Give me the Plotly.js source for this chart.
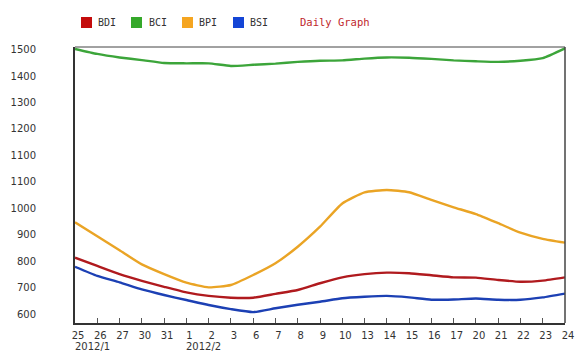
<!DOCTYPE html>
<html>
<head>
<meta charset="utf-8">
<script src="https://cdn.plot.ly/plotly-3.0.1.min.js"></script>
<style>html,body{margin:0;padding:0;background:#fff;}#chart{width:580px;height:352px;}</style>
</head>
<body>
<div id="chart"></div>
<script>
// Trading days (Jan 25 2012 - Feb 24 2012)
const days = ['25','26','27','30','31','1','2','3','6','7','8','9','10','13','14','15','16','17','20','21','22','23','24'];
const bdi = [793,765,737,714,694,675,663,657,657,670,683,706,726,737,742,740,733,726,725,717,711,715,726];
const bci = [1502,1485,1473,1464,1454,1453,1453,1444,1448,1452,1458,1462,1463,1469,1473,1472,1468,1463,1460,1458,1462,1471,1504];
const bpi = [913,866,818,770,737,708,692,700,734,774,830,898,977,1015,1023,1015,989,964,941,910,878,857,844];
const bsi = [762,731,709,685,666,649,632,618,608,621,633,643,655,660,663,658,650,651,654,650,650,658,671];
const yTickVals = [1500,1410,1320,1230,1140,1050,960,870,780,690,600];
const yTickText = ['1500','1400','1300','1200','1100','1100','1000','900','800','700','600'];
const monthLabels = ['2012/1','2012/2'];
const monthStartDays = ['25','1'];
const seriesNames = ['BDI','BCI','BPI','BSI'];
const seriesColors = ['#b01a1e','#3ca53a','#eaa425','#1c40b4'];
const legendColors = ['#c40c0c','#35a82a','#f5a520','#1445d6'];

const seriesData = [bdi, bci, bpi, bsi];
const drawOrder = [1, 2, 0, 3];
const traces = drawOrder.map(i => ({
  type: 'scatter', mode: 'lines', x: days, y: seriesData[i], name: seriesNames[i],
  line: {color: seriesColors[i], width: 2.4, shape: 'spline', smoothing: 0.5},
  showlegend: false, hoverinfo: 'skip'
}));

const shapes = [
  // top and right frame
  {type:'line', xref:'paper', yref:'paper', x0:0, x1:1, y0:1, y1:1, line:{color:'#444', width:1}},
  {type:'line', xref:'paper', yref:'paper', x0:1, x1:1, y0:0, y1:1, line:{color:'#444', width:1.5}}
];
const annotations = [];
const legendSquareX = [6, 56, 107, 158];
const legendTextX = [21, 72, 122, 173];
seriesNames.forEach((n, i) => {
  shapes.push({type:'rect', xref:'paper', yref:'paper', xsizemode:'pixel', ysizemode:'pixel',
    xanchor:0, yanchor:1, x0:legendSquareX[i], x1:legendSquareX[i]+11, y0:19, y1:30,
    fillcolor: legendColors[i], line:{width:0}});
  annotations.push({xref:'paper', yref:'paper', x:0, y:1, xshift:legendTextX[i], yshift:25,
    xanchor:'left', yanchor:'middle', showarrow:false, text:n,
    font:{family:'DejaVu Sans Mono', size:10, color:'#333'}});
});
annotations.push({xref:'paper', yref:'paper', x:0, y:1, xshift:223, yshift:25,
  xanchor:'left', yanchor:'middle', showarrow:false, text:'Daily Graph',
  font:{family:'DejaVu Sans Mono', size:10.5, color:'#c0282d'}});
monthLabels.forEach((m, i) => {
  annotations.push({xref:'x', yref:'paper', x: days.indexOf(monthStartDays[i]), y:0,
    xanchor:'left', yanchor:'top', yshift:-16, xshift:-2, showarrow:false, text:m,
    font:{family:'DejaVu Sans', size:10, color:'#333'}});
});

const layout = {
  width: 580, height: 352,
  margin: {l:75, r:15, t:47, b:29},
  paper_bgcolor: '#fff', plot_bgcolor: '#fff',
  showlegend: false,
  font: {family:'DejaVu Sans', size:10, color:'#333'},
  xaxis: {type:'category', range:[0, days.length-1], showgrid:false, zeroline:false,
    showline:true, linecolor:'#333', linewidth:2,
    ticks:'inside', ticklen:5, tickcolor:'#555', tickwidth:1,
    ticklabelshift:3, ticklabelstandoff:2, tickfont:{family:'DejaVu Sans', size:10, color:'#333'}},
  yaxis: {range:[571, 1508.5], showgrid:false, zeroline:false,
    showline:true, linecolor:'#333', linewidth:2,
    tickmode:'array', tickvals: yTickVals, ticktext: yTickText,
    ticks:'outside', ticklen:35, tickcolor:'rgba(0,0,0,0)',
    tickfont:{family:'DejaVu Sans', size:10, color:'#333'}},
  shapes: shapes,
  annotations: annotations
};
Plotly.newPlot('chart', traces, layout, {staticPlot:true, displayModeBar:false});
</script>
</body>
</html>
